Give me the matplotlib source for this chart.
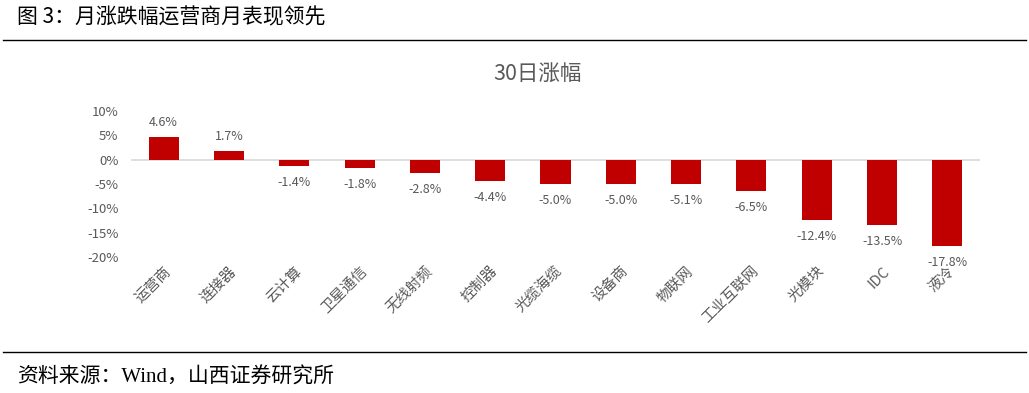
import matplotlib
matplotlib.use('Agg')
import matplotlib.pyplot as plt
from matplotlib.lines import Line2D

plt.rcParams['font.family'] = ['Noto Sans CJK SC', 'DejaVu Sans']

# data
categories = ['运营商', '连接器', '云计算', '卫星通信', '无线射频', '控制器', '光缆海缆',
              '设备商', '物联网', '工业互联网', '光模块', 'IDC', '液冷']
changes = [4.6, 1.7, -1.4, -1.8, -2.8, -4.4, -5.0, -5.0, -5.1, -6.5, -12.4, -13.5, -17.8]
yticks = [10, 5, 0, -5, -10, -15, -20]

gray = '#595959'
fig = plt.figure(figsize=(10.29, 3.93), dpi=100)

# header, footer
fig.text(0.017, 0.955, '图 3：月涨跌幅运营商月表现领先', fontsize=15, color='black',
         va='center', ha='left')
fig.add_artist(Line2D([0.003, 0.997], [0.898, 0.898], color='black', lw=1))
fig.add_artist(Line2D([0.003, 0.997], [0.104, 0.104], color='black', lw=1))
fig.text(0.017, 0.038, '资料来源：Wind，山西证券研究所', fontsize=15, color='black',
         va='center', ha='left', family=['Liberation Serif', 'Noto Sans CJK SC'])

ax = fig.add_axes([0.1273, 0.346, 0.8251, 0.3716])
x = range(len(categories))
ax.bar(x, changes, width=0.46, color='#c00000', zorder=2)
ax.axhline(0, color='#d9d9d9', lw=1.2, zorder=1)

for i, v in zip(x, changes):
    if v >= 0:
        ax.text(i, v + 1.8, f'{v:.1f}%', ha='center', va='bottom', fontsize=9, color=gray)
    else:
        ax.text(i, v - 2.0, f'{v:.1f}%', ha='center', va='top', fontsize=9, color=gray)

ax.set_xlim(-0.5, len(categories) - 0.5)
ax.set_ylim(-20, 10)
ax.set_yticks(yticks)
ax.set_yticklabels([f'{t}%' for t in yticks], fontsize=9.5, color=gray)
ax.set_xticks(list(x))
ax.set_xticklabels(categories, rotation=45, ha='right', rotation_mode='anchor',
                   fontsize=10.5, color=gray)
ax.tick_params(axis='both', length=0)
ax.tick_params(axis='y', pad=9)
ax.tick_params(axis='x', pad=5)
for s in ax.spines.values():
    s.set_visible(False)

fig.text(0.522, 0.81, '30日涨幅', fontsize=15.5, color=gray, ha='center', va='center')

fig.savefig('out.png', dpi=100)
